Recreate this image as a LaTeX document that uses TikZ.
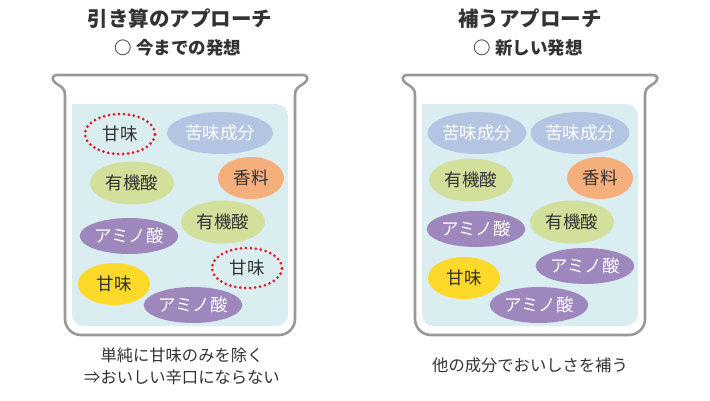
\documentclass[tikz,border=0pt]{standalone}
\usepackage{fontspec}
\setmainfont{Noto Sans CJK JP}
\usetikzlibrary{shapes.geometric}
\definecolor{txt}{HTML}{333333}
\definecolor{rimgray}{HTML}{999999}
\definecolor{liquid}{HTML}{DAEDF0}
\definecolor{bitter}{HTML}{B3C5E3}
\definecolor{acid}{HTML}{D3E09C}
\definecolor{aroma}{HTML}{F5AF7D}
\definecolor{amino}{HTML}{9D87BD}
\definecolor{sweetc}{HTML}{FDD92A}
\definecolor{dotred}{HTML}{E8141E}
\tikzset{
  blob/.style={ellipse, inner sep=0pt, font=\fontsize{17.5}{17.5}\selectfont, text=txt},
  bitterb/.style={blob, fill=bitter, text=white, minimum width=100pt, minimum height=42pt},
  acidb/.style={blob, fill=acid, minimum width=84pt, minimum height=43pt},
  aromab/.style={blob, fill=aroma, minimum width=66pt, minimum height=42pt},
  aminob/.style={blob, fill=amino, text=white, minimum width=96pt, minimum height=36pt},
  sweetb/.style={blob, fill=sweetc, minimum width=72pt, minimum height=42pt},
  sweetdot/.style={blob, draw=dotred, line width=3pt, line cap=round, dash pattern=on 0pt off 5pt, minimum width=70pt, minimum height=40pt},
  titletxt/.style={font=\bfseries\fontsize{20.5}{20.5}\selectfont, text=txt},
  subtxt/.style={font=\bfseries\fontsize{17.5}{17.5}\selectfont, text=txt},
  notetxt/.style={font=\fontsize{16.3}{22}\selectfont, text=txt, align=center},
  beaker/.style={draw=rimgray, line width=2.6pt, line join=round}
}
\newcommand{\drawbeaker}[1]{%
  \begin{scope}[xshift=#1]
    \fill[liquid] (72,104) [rounded corners=12pt] -- (72,326) -- (288,326) -- (288,104) [sharp corners] -- cycle;
    \draw[beaker] (58,75) -- (302,75) .. controls (309,75) and (309,80) .. (303,84)
      .. controls (297,88) and (295,89) .. (295,96)
      [rounded corners=16pt] -- (295,335) -- (65,335) [sharp corners] -- (65,96)
      .. controls (65,89) and (63,88) .. (57,84) .. controls (51,80) and (51,75) .. (58,75) -- cycle;
  \end{scope}}
\begin{document}
\begin{tikzpicture}[x=1pt,y=-1pt]
\useasboundingbox (0,0) rectangle (710,400);
\fill[white] (0,0) rectangle (710,400);
\drawbeaker{0pt}
\drawbeaker{350pt}
% titles
\node[titletxt] (ltitle) at (180,19) {引き算のアプローチ};
\node[subtxt] (lsub) at (178,48) {○ 今までの発想};
\node[titletxt] (rtitle) at (530,19) {補うアプローチ};
\node[subtxt] (rsub) at (528,48) {○ 新しい発想};
% left beaker contents
\node[sweetdot] (lsw1) at (120,134) {甘味};
\node[bitterb, minimum width=106pt] (lbit) at (220,133) {苦味成分};
\node[acidb] (lac1) at (132,183) {有機酸};
\node[aromab] (laro) at (251,178) {香料};
\node[acidb] (lac2) at (223,222) {有機酸};
\node[aminob] (lam1) at (129,236) {アミノ酸};
\node[sweetdot] (lsw2) at (247,268) {甘味};
\node[sweetb] (lsw3) at (114,284) {甘味};
\node[aminob] (lam2) at (193,305) {アミノ酸};
% right beaker contents
\node[bitterb, minimum width=96pt] (rbit1) at (477,133) {苦味成分};
\node[bitterb, minimum width=96pt] (rbit2) at (580,133) {苦味成分};
\node[acidb] (rac1) at (471,180) {有機酸};
\node[aromab] (raro) at (600,178) {香料};
\node[acidb] (rac2) at (572,222) {有機酸};
\node[aminob] (ram1) at (476,229) {アミノ酸};
\node[sweetb] (rsw) at (464,278) {甘味};
\node[aminob] (ram2) at (585,266) {アミノ酸};
\node[aminob] (ram3) at (539,305) {アミノ酸};
% notes
\node[notetxt] (lnote) at (182,366) {単純に甘味のみを除く\\⇒おいしい辛口にならない};
\node[notetxt] (rnote) at (530,365) {他の成分でおいしさを補う};
\end{tikzpicture}
\end{document}
